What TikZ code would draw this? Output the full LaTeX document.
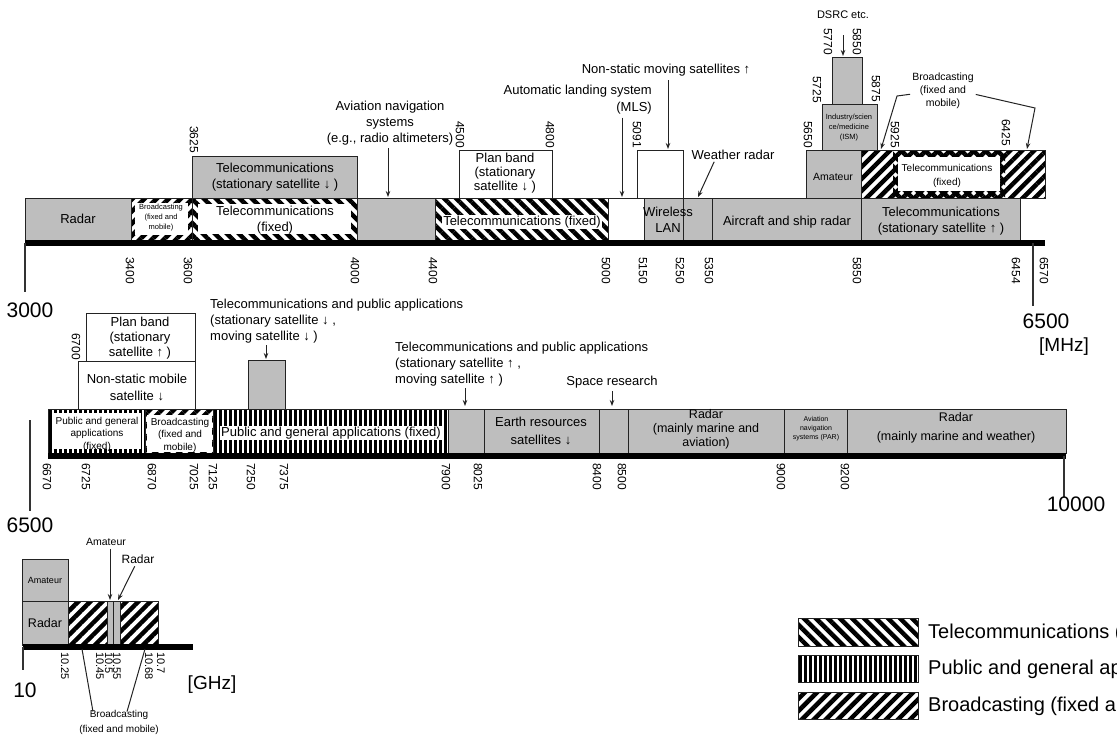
\documentclass[tikz,border=0pt]{standalone}
\usepackage{fontspec}
\setmainfont{Liberation Sans}
\usetikzlibrary{arrows.meta,patterns.meta}
\definecolor{bandgray}{RGB}{190,190,190}
\definecolor{edge}{RGB}{35,35,35}

\begin{document}
\begin{tikzpicture}[x=1pt, y=-1pt, >={Stealth[length=6pt,width=4.5pt]},
    band/.style={draw=edge, line width=1pt},
    grayband/.style={band, fill=bandgray},
    whiteband/.style={band, fill=white},
    telehatch/.style={pattern={Lines[angle=-45,distance=8.5pt,line width=4.5pt]}, pattern color=black},
    broadhatch/.style={pattern={Lines[angle=45,distance=8.5pt,line width=4.5pt]}, pattern color=black},
    pubhatch/.style={pattern={Lines[angle=90,distance=5pt,line width=3pt]}, pattern color=black},
    axisbar/.style={line width=6pt, black},
    axisline/.style={line width=1.5pt, black!80},
    lbl/.style={font=\fontsize{13}{16}\selectfont, align=center, inner sep=0pt},
    smalllbl/.style={font=\fontsize{10}{12.5}\selectfont, align=center, inner sep=0pt},
    tinylbl/.style={font=\fontsize{7.5}{10}\selectfont, align=center, inner sep=0pt},
    freq/.style={font=\fontsize{12}{12}\selectfont, rotate=-90, inner sep=0pt},
    bigtext/.style={font=\fontsize{21}{21}\selectfont, inner sep=0pt},
    legendtext/.style={font=\fontsize{20}{20}\selectfont, inner sep=0pt, anchor=west},
    pointer/.style={->, line width=1pt, edge}]
\useasboundingbox (0,0) rectangle (1117,740);
\clip (0,0) rectangle (1117,740);

% ---- 3000 - 6500 MHz ----
\draw[grayband] (25,198) rectangle (131,240);
\draw[band, broadhatch] (131,198) rectangle (192,240);
\fill[white] (135,203) rectangle (188,235);
\draw[band, telehatch] (192,198) rectangle (357,240);
\fill[white] (198,204) rectangle (351,234);
\draw[grayband] (357,198) rectangle (435,240);
\draw[band, telehatch] (435,198) rectangle (608,240);
\draw[whiteband] (608,198) rectangle (644,240);
\draw[grayband] (644,198) rectangle (712,240);
\draw[grayband] (712,198) rectangle (861,240);
\draw[grayband] (861,198) rectangle (1020,240);
\draw[grayband] (192,156) rectangle (357,198);
\draw[whiteband] (459,150) rectangle (552,198);
\draw[band] (637,198) |- (683,150) -- (683,240);
\draw[grayband] (806,150) rectangle (861,198);
\draw[grayband] (822,104) rectangle (877,150);
\draw[grayband] (832,57) rectangle (862,104);
\fill[broadhatch] (861,150) rectangle (1045,198);
\fill[telehatch] (893,150) rectangle (1005,198);
\fill[white] (898,157) rectangle (1000,191);
\draw[band] (861,150) rectangle (1045,198);
\draw[axisbar] (25,243) -- (1045,243);
\draw[axisline] (25,243) -- (25,292);
\draw[axisline] (1033,243) -- (1033,306);

\node[lbl] (radar1) at (78,219) {Radar};
\node[tinylbl] (broad1) at (161,218) {Broadcasting\\(fixed and\\mobile)};
\node[lbl] (telefix1) at (275,220) {Telecommunications\\(fixed)};
\node[lbl, fill=white, inner sep=1pt] (telefix2) at (522,222) {Telecommunications (fixed)};
\node[lbl] (wlan) at (668,220) {Wireless\\LAN};
\node[lbl] (shipradar) at (787,222) {Aircraft and ship radar};
\node[lbl] (telesatup) at (941,221) {Telecommunications\\(stationary satellite ↑ )};
\node[lbl] (telesatdown) at (275,177) {Telecommunications\\(stationary satellite ↓ )};
\node[lbl, font=\fontsize{13}{14}\selectfont] (planband1) at (505,173) {Plan band\\(stationary\\satellite ↓ )};
\node[smalllbl, font=\fontsize{10.5}{12}\selectfont] (amateur1) at (833,177) {Amateur};
\node[tinylbl] (ism) at (849,128) {Industry/scien\\ce/medicine\\(ISM)};
\node[smalllbl, font=\fontsize{10}{14}\selectfont] (telefix3) at (947,176) {Telecommunications\\(fixed)};

\foreach \x/\f in {130/3400, 188/3600, 355/4000, 433/4400, 606/5000, 643/5150,
    680/5250, 709/5350, 857/5850, 1016/6454, 1044/6570}
  \node[freq, anchor=west] (f\f) at (\x,257) {\f};
\foreach \x/\y/\f in {194/153/3625, 460/148/4500, 550/148/4800, 637/148/5091,
    808/148/5650, 817/103/5725, 876/102/5875, 828/55/5770, 857/55/5850,
    895/148/5925, 1006/146/6425}
  \node[freq, anchor=east] (u\f) at (\x,\y) {\f};

\node[lbl] (avnav) at (390,123) {Aviation navigation\\systems\\(e.g., radio altimeters)};
\coordinate (avnavtip) at (388,197);
\draw[pointer, shorten <=3pt] (avnav.south -| avnavtip) -- (avnavtip);
\node[lbl, align=right, anchor=north east, font=\fontsize{13}{17}\selectfont] (mls) at (652,85) {Automatic landing system\\(MLS)};
\coordinate (mlstip) at (622,197);
\draw[pointer, shorten <=3pt] (mls.south -| mlstip) -- (mlstip);
\node[lbl] (nonstatic) at (666,70) {Non-static moving satellites ↑};
\coordinate (nonstatictip) at (668,149);
\draw[pointer, shorten <=4pt] (nonstatic.south -| nonstatictip) -- (nonstatictip);
\node[lbl] (weather) at (733,155) {Weather radar};
\coordinate (weathertip) at (698,197);
\draw[pointer, shorten <=2pt] ([xshift=-18pt]weather.south) -- (weathertip);
\node[lbl, font=\fontsize{11}{11}\selectfont] (dsrc) at (843,15) {DSRC etc.};
\coordinate (dsrctip) at (843,56);
\draw[pointer, shorten <=16pt] (dsrc.south) -- (dsrctip);
\node[smalllbl, font=\fontsize{10.5}{13}\selectfont] (broad2) at (943,91) {Broadcasting\\(fixed and\\mobile)};
\coordinate (broadbendl) at (897,96);
\coordinate (broadtipl) at (881,149);
\coordinate (broadbendr) at (1035,108);
\coordinate (broadtipr) at (1027,149);
\draw[pointer, shorten <=2pt] ([yshift=-3pt]broad2.west) -- (broadbendl) -- (broadtipl);
\draw[pointer, shorten <=2pt] ([yshift=-3pt]broad2.east) -- (broadbendr) -- (broadtipr);

\node[bigtext] (mhz3000) at (30,310) {3000};
\node[bigtext] (mhz6500) at (1046,321) {6500};
\node[bigtext, font=\fontsize{19}{19}\selectfont] (mhz) at (1064,347) {[MHz]};

% ---- 6500 - 10000 MHz ----
\draw[band, pubhatch] (48,409) rectangle (145,453);
\fill[white] (52,413) rectangle (141,449);
\draw[band, broadhatch] (145,409) rectangle (213,453);
\fill[white] (146.5,415) rectangle (211.5,451.5);
\draw[band, pubhatch] (213,409) rectangle (448,453);
\draw[grayband] (448,409) rectangle (484,453);
\draw[grayband] (484,409) rectangle (599,453);
\draw[grayband] (599,409) rectangle (628,453);
\draw[grayband] (628,409) rectangle (784,453);
\draw[grayband] (784,409) rectangle (847,453);
\draw[grayband] (847,409) rectangle (1066,453);
\draw[whiteband] (78,361) rectangle (195,409);
\draw[whiteband] (86,313) rectangle (195,361);
\draw[grayband] (248,360) rectangle (285,409);
\draw[axisbar] (48,456) -- (1066,456);
\draw[axisline] (30,420) -- (30,511);
\draw[axisline] (1064,456) -- (1064,497);

\node[smalllbl] (pubfix1) at (97,434) {Public and general\\applications\\(fixed)};
\node[smalllbl] (broad3) at (180,435) {Broadcasting\\(fixed and\\mobile)};
\node[lbl, fill=white, inner sep=1pt] (pubfix2) at (331,433) {Public and general applications (fixed)};
\node[lbl, font=\fontsize{13}{18}\selectfont] (earth) at (541,431) {Earth resources\\satellites ↓};
\node[lbl, font=\fontsize{12.5}{14}\selectfont] (radar2) at (706,429) {Radar\\(mainly marine and\\aviation)};
\node[tinylbl, font=\fontsize{7}{9}\selectfont] (par) at (816,429) {Aviation\\navigation\\systems (PAR)};
\node[lbl, font=\fontsize{12.5}{19}\selectfont] (radar3) at (956,428) {Radar\\(mainly marine and weather)};
\node[lbl, font=\fontsize{13}{15}\selectfont] (planband2) at (140,338) {Plan band\\(stationary\\satellite ↑ )};
\node[lbl, font=\fontsize{13}{17}\selectfont] (nonstaticmob) at (137,387) {Non-static mobile\\satellite ↓};

\foreach \x/\f in {47/6670, 86/6725, 152/6870, 194/7025, 213/7125, 251/7250,
    284/7375, 446/7900, 478/8025, 597/8400, 622/8500, 781/9000, 845/9200}
  \node[freq, anchor=west] (f\f) at (\x,463) {\f};
\node[freq, anchor=east] (u6700) at (76,360) {6700};

\node[lbl, align=left, anchor=west] (tpadown) at (210,321) {Telecommunications and public applications\\(stationary satellite ↓ ,\\moving satellite ↓ )};
\coordinate (tpadowntip) at (266,359);
\draw[pointer, shorten <=2pt] (tpadown.south -| tpadowntip) -- (tpadowntip);
\node[lbl, align=left, anchor=west] (tpaup) at (395,364) {Telecommunications and public applications\\(stationary satellite ↑ ,\\moving satellite ↑ )};
\coordinate (tpauptip) at (465,406);
\draw[pointer, shorten <=2pt] (tpaup.south -| tpauptip) -- (tpauptip);
\node[lbl] (space) at (612,382) {Space research};
\coordinate (spacetip) at (612,406);
\draw[pointer, shorten <=3pt] (space.south) -- (spacetip);

\node[bigtext] (mhz6500b) at (30,525) {6500};
\node[bigtext] (mhz10000) at (1076,504) {10000};

% ---- 10 GHz ----
\draw[grayband] (22,559) rectangle (68,601);
\draw[grayband] (22,601) rectangle (68,645);
\draw[band, broadhatch] (68,601) rectangle (158,645);
\draw[grayband] (107,601) rectangle (113.5,645);
\draw[grayband] (113.5,601) rectangle (120,645);
\draw[axisbar] (23,647) -- (193,647);
\draw[axisline] (23,647) -- (23,670);

\node[smalllbl, font=\fontsize{9}{9}\selectfont] (amateur2) at (45,580) {Amateur};
\node[lbl, font=\fontsize{12.5}{12.5}\selectfont] (radar4) at (45,623) {Radar};
\foreach \x/\f [count=\i] in {65/10.25, 100/10.45, 109/10.5, 117/10.55, 149/10.68, 161/10.7}
  \node[freq, anchor=west, font=\fontsize{11}{11}\selectfont] (g\i) at (\x,652) {\f};

\node[smalllbl, font=\fontsize{10.5}{10.5}\selectfont] (amateur3) at (106,542) {Amateur};
\coordinate (amateurtip) at (110,600);
\draw[pointer, shorten <=3pt] (amateur3.south -| amateurtip) -- (amateurtip);
\node[lbl, font=\fontsize{12}{12}\selectfont] (radar5) at (138,559) {Radar};
\coordinate (radartip) at (118,600);
\draw[pointer, shorten <=3pt] ([xshift=-2pt]radar5.south) -- (radartip);
\node[smalllbl, font=\fontsize{10}{15}\selectfont] (broad4) at (119,722) {Broadcasting\\(fixed and mobile)};
\coordinate (broadfootl) at (82,649);
\coordinate (broadfootr) at (145,649);
\draw[band] ([xshift=-26pt, yshift=-2pt]broad4.north) -- (broadfootl);
\draw[band] ([xshift=8pt, yshift=-2pt]broad4.north) -- (broadfootr);

\node[bigtext] (ghz10) at (25,690) {10};
\node[bigtext, font=\fontsize{19}{19}\selectfont] (ghz) at (212,685) {[GHz]};

% ---- legend ----
\draw[band, telehatch] (798,618) rectangle (918,646);
\draw[band, pubhatch] (798,655) rectangle (918,682);
\draw[band, broadhatch] (798,692) rectangle (918,719);
\node[legendtext] (legtele) at (928,633) {Telecommunications (fixed)};
\node[legendtext] (legpub) at (928,669) {Public and general applications (fixed)};
\node[legendtext] (legbroad) at (928,706) {Broadcasting (fixed and mobile)};
\end{tikzpicture}
\end{document}
